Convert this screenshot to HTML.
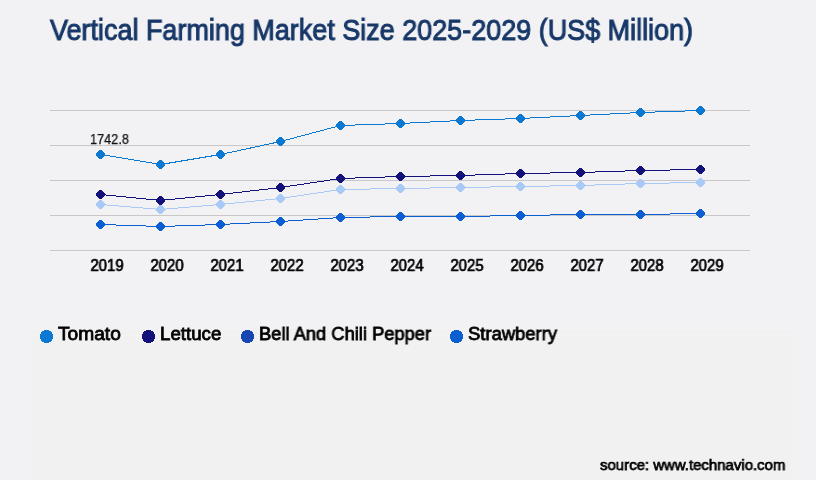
<!DOCTYPE html>
<html><head><meta charset="utf-8"><style>
html,body{margin:0;padding:0}
body{width:816px;height:480px;background:#f2f2f5;position:relative;overflow:hidden;font-family:"Liberation Sans",sans-serif}
.inner{position:absolute;left:30px;top:330px;width:762px;height:150px;background:#f1f1f1}
.stripe{position:absolute;left:30px;top:335px;width:762px;height:1px;background:#f3f3f3}
.t{position:absolute;white-space:nowrap;line-height:1;transform-origin:0 0;will-change:transform}
.ax{font-weight:bold;color:#000;transform-origin:50% 0;width:60px;margin-left:-30px;text-align:center}
svg{position:absolute;left:0;top:0}
.dot{position:absolute;width:13px;height:13px;border-radius:50%}
</style></head><body>
<div class="inner"></div><div class="stripe"></div>
<svg width="816" height="480">
<line x1="50" x2="750" y1="110.5" y2="110.5" stroke="#c8c8ca" stroke-width="1"/>
<line x1="50" x2="750" y1="145.5" y2="145.5" stroke="#c8c8ca" stroke-width="1"/>
<line x1="50" x2="750" y1="180.5" y2="180.5" stroke="#c8c8ca" stroke-width="1"/>
<line x1="50" x2="750" y1="215.5" y2="215.5" stroke="#c8c8ca" stroke-width="1"/>
<line x1="50" x2="750" y1="250.5" y2="250.5" stroke="#c8c8ca" stroke-width="1"/>
<polyline fill="none" stroke="#0b78d2" stroke-width="1" shape-rendering="crispEdges" points="100.5,154.5 160.5,164.5 220.5,154.5 280.5,141.5 340.5,125.5 400.5,123.5 460.5,120.5 520.5,118.5 580.5,115.5 640.5,112.5 700.5,110.5"/>
<polyline fill="none" stroke="#a9c9f7" stroke-width="1" shape-rendering="crispEdges" points="100.5,204.5 160.5,209.5 220.5,204.5 280.5,198.5 340.5,189.5 400.5,188.5 460.5,187.5 520.5,186.5 580.5,185.5 640.5,183.5 700.5,182.5"/>
<polyline fill="none" stroke="#12127a" stroke-width="1" shape-rendering="crispEdges" points="100.5,194.5 160.5,200.5 220.5,194.5 280.5,187.5 340.5,178.5 400.5,176.5 460.5,175.5 520.5,173.5 580.5,172.5 640.5,170.5 700.5,169.5"/>
<polyline fill="none" stroke="#0b5fd2" stroke-width="1" shape-rendering="crispEdges" points="100.5,224.5 160.5,226.5 220.5,224.5 280.5,221.5 340.5,217.5 400.5,216.5 460.5,216.5 520.5,215.5 580.5,214.5 640.5,214.5 700.5,213.5"/>
<polygon fill="#0b78d2" shape-rendering="crispEdges" points="99.50,149.90 101.50,149.90 105.10,153.50 105.10,155.50 101.50,159.10 99.50,159.10 95.90,155.50 95.90,153.50"/>
<polygon fill="#0b78d2" shape-rendering="crispEdges" points="159.50,159.90 161.50,159.90 165.10,163.50 165.10,165.50 161.50,169.10 159.50,169.10 155.90,165.50 155.90,163.50"/>
<polygon fill="#0b78d2" shape-rendering="crispEdges" points="219.50,149.90 221.50,149.90 225.10,153.50 225.10,155.50 221.50,159.10 219.50,159.10 215.90,155.50 215.90,153.50"/>
<polygon fill="#0b78d2" shape-rendering="crispEdges" points="279.50,136.90 281.50,136.90 285.10,140.50 285.10,142.50 281.50,146.10 279.50,146.10 275.90,142.50 275.90,140.50"/>
<polygon fill="#0b78d2" shape-rendering="crispEdges" points="339.50,120.90 341.50,120.90 345.10,124.50 345.10,126.50 341.50,130.10 339.50,130.10 335.90,126.50 335.90,124.50"/>
<polygon fill="#0b78d2" shape-rendering="crispEdges" points="399.50,118.90 401.50,118.90 405.10,122.50 405.10,124.50 401.50,128.10 399.50,128.10 395.90,124.50 395.90,122.50"/>
<polygon fill="#0b78d2" shape-rendering="crispEdges" points="459.50,115.90 461.50,115.90 465.10,119.50 465.10,121.50 461.50,125.10 459.50,125.10 455.90,121.50 455.90,119.50"/>
<polygon fill="#0b78d2" shape-rendering="crispEdges" points="519.50,113.90 521.50,113.90 525.10,117.50 525.10,119.50 521.50,123.10 519.50,123.10 515.90,119.50 515.90,117.50"/>
<polygon fill="#0b78d2" shape-rendering="crispEdges" points="579.50,110.90 581.50,110.90 585.10,114.50 585.10,116.50 581.50,120.10 579.50,120.10 575.90,116.50 575.90,114.50"/>
<polygon fill="#0b78d2" shape-rendering="crispEdges" points="639.50,107.90 641.50,107.90 645.10,111.50 645.10,113.50 641.50,117.10 639.50,117.10 635.90,113.50 635.90,111.50"/>
<polygon fill="#0b78d2" shape-rendering="crispEdges" points="699.50,105.90 701.50,105.90 705.10,109.50 705.10,111.50 701.50,115.10 699.50,115.10 695.90,111.50 695.90,109.50"/>
<polygon fill="#a9c9f7" shape-rendering="crispEdges" points="99.50,199.90 101.50,199.90 105.10,203.50 105.10,205.50 101.50,209.10 99.50,209.10 95.90,205.50 95.90,203.50"/>
<polygon fill="#a9c9f7" shape-rendering="crispEdges" points="159.50,204.90 161.50,204.90 165.10,208.50 165.10,210.50 161.50,214.10 159.50,214.10 155.90,210.50 155.90,208.50"/>
<polygon fill="#a9c9f7" shape-rendering="crispEdges" points="219.50,199.90 221.50,199.90 225.10,203.50 225.10,205.50 221.50,209.10 219.50,209.10 215.90,205.50 215.90,203.50"/>
<polygon fill="#a9c9f7" shape-rendering="crispEdges" points="279.50,193.90 281.50,193.90 285.10,197.50 285.10,199.50 281.50,203.10 279.50,203.10 275.90,199.50 275.90,197.50"/>
<polygon fill="#a9c9f7" shape-rendering="crispEdges" points="339.50,184.90 341.50,184.90 345.10,188.50 345.10,190.50 341.50,194.10 339.50,194.10 335.90,190.50 335.90,188.50"/>
<polygon fill="#a9c9f7" shape-rendering="crispEdges" points="399.50,183.90 401.50,183.90 405.10,187.50 405.10,189.50 401.50,193.10 399.50,193.10 395.90,189.50 395.90,187.50"/>
<polygon fill="#a9c9f7" shape-rendering="crispEdges" points="459.50,182.90 461.50,182.90 465.10,186.50 465.10,188.50 461.50,192.10 459.50,192.10 455.90,188.50 455.90,186.50"/>
<polygon fill="#a9c9f7" shape-rendering="crispEdges" points="519.50,181.90 521.50,181.90 525.10,185.50 525.10,187.50 521.50,191.10 519.50,191.10 515.90,187.50 515.90,185.50"/>
<polygon fill="#a9c9f7" shape-rendering="crispEdges" points="579.50,180.90 581.50,180.90 585.10,184.50 585.10,186.50 581.50,190.10 579.50,190.10 575.90,186.50 575.90,184.50"/>
<polygon fill="#a9c9f7" shape-rendering="crispEdges" points="639.50,178.90 641.50,178.90 645.10,182.50 645.10,184.50 641.50,188.10 639.50,188.10 635.90,184.50 635.90,182.50"/>
<polygon fill="#a9c9f7" shape-rendering="crispEdges" points="699.50,177.90 701.50,177.90 705.10,181.50 705.10,183.50 701.50,187.10 699.50,187.10 695.90,183.50 695.90,181.50"/>
<polygon fill="#12127a" shape-rendering="crispEdges" points="99.50,189.90 101.50,189.90 105.10,193.50 105.10,195.50 101.50,199.10 99.50,199.10 95.90,195.50 95.90,193.50"/>
<polygon fill="#12127a" shape-rendering="crispEdges" points="159.50,195.90 161.50,195.90 165.10,199.50 165.10,201.50 161.50,205.10 159.50,205.10 155.90,201.50 155.90,199.50"/>
<polygon fill="#12127a" shape-rendering="crispEdges" points="219.50,189.90 221.50,189.90 225.10,193.50 225.10,195.50 221.50,199.10 219.50,199.10 215.90,195.50 215.90,193.50"/>
<polygon fill="#12127a" shape-rendering="crispEdges" points="279.50,182.90 281.50,182.90 285.10,186.50 285.10,188.50 281.50,192.10 279.50,192.10 275.90,188.50 275.90,186.50"/>
<polygon fill="#12127a" shape-rendering="crispEdges" points="339.50,173.90 341.50,173.90 345.10,177.50 345.10,179.50 341.50,183.10 339.50,183.10 335.90,179.50 335.90,177.50"/>
<polygon fill="#12127a" shape-rendering="crispEdges" points="399.50,171.90 401.50,171.90 405.10,175.50 405.10,177.50 401.50,181.10 399.50,181.10 395.90,177.50 395.90,175.50"/>
<polygon fill="#12127a" shape-rendering="crispEdges" points="459.50,170.90 461.50,170.90 465.10,174.50 465.10,176.50 461.50,180.10 459.50,180.10 455.90,176.50 455.90,174.50"/>
<polygon fill="#12127a" shape-rendering="crispEdges" points="519.50,168.90 521.50,168.90 525.10,172.50 525.10,174.50 521.50,178.10 519.50,178.10 515.90,174.50 515.90,172.50"/>
<polygon fill="#12127a" shape-rendering="crispEdges" points="579.50,167.90 581.50,167.90 585.10,171.50 585.10,173.50 581.50,177.10 579.50,177.10 575.90,173.50 575.90,171.50"/>
<polygon fill="#12127a" shape-rendering="crispEdges" points="639.50,165.90 641.50,165.90 645.10,169.50 645.10,171.50 641.50,175.10 639.50,175.10 635.90,171.50 635.90,169.50"/>
<polygon fill="#12127a" shape-rendering="crispEdges" points="699.50,164.90 701.50,164.90 705.10,168.50 705.10,170.50 701.50,174.10 699.50,174.10 695.90,170.50 695.90,168.50"/>
<polygon fill="#0b5fd2" shape-rendering="crispEdges" points="99.50,219.90 101.50,219.90 105.10,223.50 105.10,225.50 101.50,229.10 99.50,229.10 95.90,225.50 95.90,223.50"/>
<polygon fill="#0b5fd2" shape-rendering="crispEdges" points="159.50,221.90 161.50,221.90 165.10,225.50 165.10,227.50 161.50,231.10 159.50,231.10 155.90,227.50 155.90,225.50"/>
<polygon fill="#0b5fd2" shape-rendering="crispEdges" points="219.50,219.90 221.50,219.90 225.10,223.50 225.10,225.50 221.50,229.10 219.50,229.10 215.90,225.50 215.90,223.50"/>
<polygon fill="#0b5fd2" shape-rendering="crispEdges" points="279.50,216.90 281.50,216.90 285.10,220.50 285.10,222.50 281.50,226.10 279.50,226.10 275.90,222.50 275.90,220.50"/>
<polygon fill="#0b5fd2" shape-rendering="crispEdges" points="339.50,212.90 341.50,212.90 345.10,216.50 345.10,218.50 341.50,222.10 339.50,222.10 335.90,218.50 335.90,216.50"/>
<polygon fill="#0b5fd2" shape-rendering="crispEdges" points="399.50,211.90 401.50,211.90 405.10,215.50 405.10,217.50 401.50,221.10 399.50,221.10 395.90,217.50 395.90,215.50"/>
<polygon fill="#0b5fd2" shape-rendering="crispEdges" points="459.50,211.90 461.50,211.90 465.10,215.50 465.10,217.50 461.50,221.10 459.50,221.10 455.90,217.50 455.90,215.50"/>
<polygon fill="#0b5fd2" shape-rendering="crispEdges" points="519.50,210.90 521.50,210.90 525.10,214.50 525.10,216.50 521.50,220.10 519.50,220.10 515.90,216.50 515.90,214.50"/>
<polygon fill="#0b5fd2" shape-rendering="crispEdges" points="579.50,209.90 581.50,209.90 585.10,213.50 585.10,215.50 581.50,219.10 579.50,219.10 575.90,215.50 575.90,213.50"/>
<polygon fill="#0b5fd2" shape-rendering="crispEdges" points="639.50,209.90 641.50,209.90 645.10,213.50 645.10,215.50 641.50,219.10 639.50,219.10 635.90,215.50 635.90,213.50"/>
<polygon fill="#0b5fd2" shape-rendering="crispEdges" points="699.50,208.90 701.50,208.90 705.10,212.50 705.10,214.50 701.50,218.10 699.50,218.10 695.90,214.50 695.90,212.50"/>
<circle cx="46.5" cy="336.5" r="6.6" fill="#0b78d2" shape-rendering="crispEdges"/>
<circle cx="148.5" cy="336.5" r="6.6" fill="#14127a" shape-rendering="crispEdges"/>
<circle cx="247.5" cy="336.5" r="6.6" fill="#1747b3" shape-rendering="crispEdges"/>
<circle cx="456.5" cy="336.5" r="6.6" fill="#0a5fd0" shape-rendering="crispEdges"/>
</svg>
<div class="t" style="left:50px;top:16px;font-size:29px;font-weight:normal;color:#183868;transform:scaleX(0.93);-webkit-text-stroke:1.0px #183868">Vertical Farming Market Size 2025-2029 (US$ Million)</div>
<div class="t" style="left:89.8px;top:131.5px;font-size:14px;font-weight:normal;color:#111;transform:scaleX(0.91);-webkit-text-stroke:0.25px #111">1742.8</div>
<div class="t ax" style="left:106.5px;top:257.5px;font-size:16px;transform:scaleX(0.93);font-weight:normal;-webkit-text-stroke:0.7px #000">2019</div>
<div class="t ax" style="left:166.5px;top:257.5px;font-size:16px;transform:scaleX(0.93);font-weight:normal;-webkit-text-stroke:0.7px #000">2020</div>
<div class="t ax" style="left:226.5px;top:257.5px;font-size:16px;transform:scaleX(0.93);font-weight:normal;-webkit-text-stroke:0.7px #000">2021</div>
<div class="t ax" style="left:286.5px;top:257.5px;font-size:16px;transform:scaleX(0.93);font-weight:normal;-webkit-text-stroke:0.7px #000">2022</div>
<div class="t ax" style="left:346.5px;top:257.5px;font-size:16px;transform:scaleX(0.93);font-weight:normal;-webkit-text-stroke:0.7px #000">2023</div>
<div class="t ax" style="left:406.5px;top:257.5px;font-size:16px;transform:scaleX(0.93);font-weight:normal;-webkit-text-stroke:0.7px #000">2024</div>
<div class="t ax" style="left:466.5px;top:257.5px;font-size:16px;transform:scaleX(0.93);font-weight:normal;-webkit-text-stroke:0.7px #000">2025</div>
<div class="t ax" style="left:526.5px;top:257.5px;font-size:16px;transform:scaleX(0.93);font-weight:normal;-webkit-text-stroke:0.7px #000">2026</div>
<div class="t ax" style="left:586.5px;top:257.5px;font-size:16px;transform:scaleX(0.93);font-weight:normal;-webkit-text-stroke:0.7px #000">2027</div>
<div class="t ax" style="left:646.5px;top:257.5px;font-size:16px;transform:scaleX(0.93);font-weight:normal;-webkit-text-stroke:0.7px #000">2028</div>
<div class="t ax" style="left:706.5px;top:257.5px;font-size:16px;transform:scaleX(0.93);font-weight:normal;-webkit-text-stroke:0.7px #000">2029</div>
<div class="t" style="left:58px;top:324.5px;font-size:18.5px;font-weight:normal;color:#000;transform:scaleX(1.035);-webkit-text-stroke:0.8px #000">Tomato</div>
<div class="t" style="left:160px;top:324.5px;font-size:18.5px;font-weight:normal;color:#000;transform:scaleX(1.01);-webkit-text-stroke:0.8px #000">Lettuce</div>
<div class="t" style="left:258.5px;top:324.5px;font-size:18.5px;font-weight:normal;color:#000;transform:scaleX(0.99);-webkit-text-stroke:0.8px #000">Bell And Chili Pepper</div>
<div class="t" style="left:468px;top:324.5px;font-size:18.5px;font-weight:normal;color:#000;transform:scaleX(0.995);-webkit-text-stroke:0.8px #000">Strawberry</div>
<div class="t" style="left:600px;top:457px;font-size:15.5px;font-weight:normal;color:#000;transform:scaleX(0.965);-webkit-text-stroke:0.75px #000">source: www.technavio.com</div>
</body></html>
